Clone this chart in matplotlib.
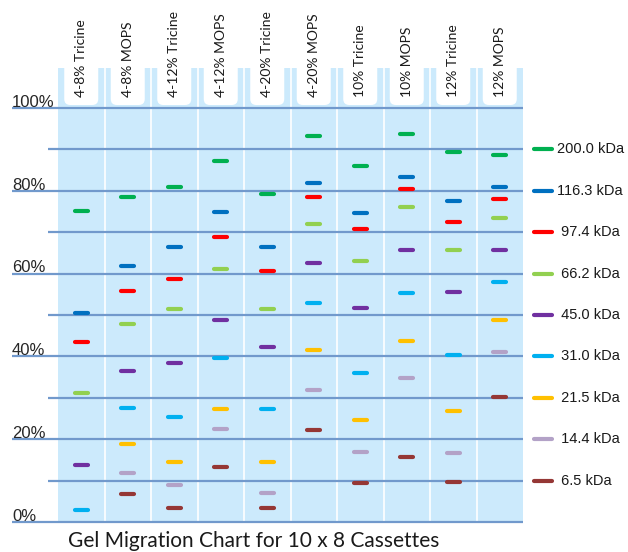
import numpy as np
import matplotlib
matplotlib.use('Agg')
import matplotlib.pyplot as plt
from matplotlib.patches import FancyBboxPatch

nan = np.nan

lanes = ['4-8% Tricine', '4-8% MOPS', '4-12% Tricine', '4-12% MOPS', '4-20% Tricine',
         '4-20% MOPS', '10% Tricine', '10% MOPS', '12% Tricine', '12% MOPS']

markers = ['200.0 kDa', '116.3 kDa', ' 97.4 kDa', ' 66.2 kDa', ' 45.0 kDa',
           ' 31.0 kDa', ' 21.5 kDa', ' 14.4 kDa', ' 6.5 kDa']
marker_colors = ['#00B050', '#0070C0', '#FF0000', '#92D050', '#7030A0',
                 '#00B0F0', '#FFC000', '#B3A2C7', '#953735']
# legend entry sits on these gridlines
legend_y = [90, 80, 70, 60, 50, 40, 30, 20, 10]

# band position (% of gel length from bottom) per marker, one value per lane
band_200 = [75.1, 78.5, 81.0, 87.1, 79.3, 93.2, 86.0, 93.6, 89.4, 88.6]
band_116 = [50.6, 61.8, 66.4, 74.8, 66.4, 81.8, 74.6, 83.3, 77.6, 81.0]
band_97 = [43.5, 55.7, 58.8, 68.8, 60.7, 78.5, 70.7, 80.4, 72.5, 77.9]
band_66 = [31.2, 47.8, 51.4, 61.0, 51.4, 72.1, 63.0, 76.0, 65.7, 73.4]
band_45 = [13.7, 36.5, 38.5, 48.7, 42.2, 62.5, 51.6, 65.7, 55.6, 65.7]
band_31 = [3.0, 27.6, 25.4, 39.6, 27.4, 52.8, 36.1, 55.4, 40.3, 57.9]
band_21 = [nan, 18.8, 14.6, 27.2, 14.6, 41.5, 24.7, 43.6, 26.7, 48.8]
band_14 = [nan, 11.8, 8.9, 22.5, 7.0, 31.8, 17.0, 34.7, 16.6, 41.1]
band_6 = [nan, 6.7, 3.4, 13.4, 3.4, 22.2, 9.4, 15.7, 9.7, 30.3]
bands = [band_200, band_116, band_97, band_66, band_45, band_31, band_21, band_14, band_6]

major_y = [0, 20, 40, 60, 80, 100]
minor_y = [10, 30, 50, 70, 90]

panel_c = '#CCEAFC'
line_c = '#7199CC'

W, H = 628, 552
fig = plt.figure(figsize=(W / 100, H / 100), dpi=100)
# panel: x 58..523 px, y 68..522 px
ax = fig.add_axes([58 / W, (H - 522) / H, 465 / W, 454 / H])
px_y = 414 / 100          # px per percent
px_x = 465 / 10           # px per lane
ymax = 454 / px_y
ax.set_xlim(0, 10)
ax.set_ylim(0, ymax)
ax.set_facecolor(panel_c)
for s in ax.spines.values():
    s.set_visible(False)
ax.set_xticks([])
ax.set_yticks([])

# lane separators
ax.vlines(np.arange(1, 10), 0, ymax, color='white', lw=1.2, zorder=1)

# gridlines
x_major = -46 / px_x
x_minor = -10 / px_x
for y in major_y:
    ax.plot([x_major, 10], [y, y], color=line_c, lw=1.6, clip_on=False, zorder=2,
            solid_capstyle='butt')
    ax.text(x_major, y + 0.3, f'{y}%', fontsize=12, family='Liberation Sans',
            color='#262626', ha='left', va='baseline')
for y in minor_y:
    ax.plot([x_minor, 10], [y, y], color=line_c, lw=1.6, clip_on=False, zorder=2,
            solid_capstyle='butt')

# white tabs with lane names
tab_w = 34 / px_x
tab_bot = (522 - 105) / px_y
tab_top = (522 - 58) / px_y
for i, name in enumerate(lanes):
    xc = i + 0.5
    tab = FancyBboxPatch((xc - tab_w / 2, tab_bot), tab_w, tab_top - tab_bot,
                         boxstyle='round,pad=0,rounding_size=0.13',
                         mutation_aspect=px_x / px_y,
                         facecolor='white', edgecolor='none', clip_on=False, zorder=3)
    ax.add_patch(tab)
    ax.text(xc, (522 - 97) / px_y, name, rotation=90, ha='center', va='bottom',
            fontsize=10, family='Lato', color='#1a1a1a', zorder=4)

# bands
half = 6.5 / px_x
for vals, c in zip(bands, marker_colors):
    for i, v in enumerate(vals):
        if np.isnan(v):
            continue
        ax.plot([i + 0.5 - half, i + 0.5 + half], [v, v], color=c, lw=3,
                solid_capstyle='round', zorder=5)

# legend on the right
lx0 = (534 - 58) / px_x
lx1 = (552 - 58) / px_x
tx = (557 - 58) / px_x
for lab, c, y in zip(markers, marker_colors, legend_y):
    ax.plot([lx0, lx1], [y, y], color=c, lw=3, solid_capstyle='round', clip_on=False)
    ax.text(tx, y, lab, fontsize=10.5, family='Liberation Sans', color='#1a1a1a',
            ha='left', va='center')

fig.text(68 / W, (H - 547) / H, 'Gel Migration Chart for 10 x 8 Cassettes',
         fontsize=15, family='Lato', color='#1a1a1a', ha='left', va='baseline')

fig.savefig('out.png', dpi=100)
